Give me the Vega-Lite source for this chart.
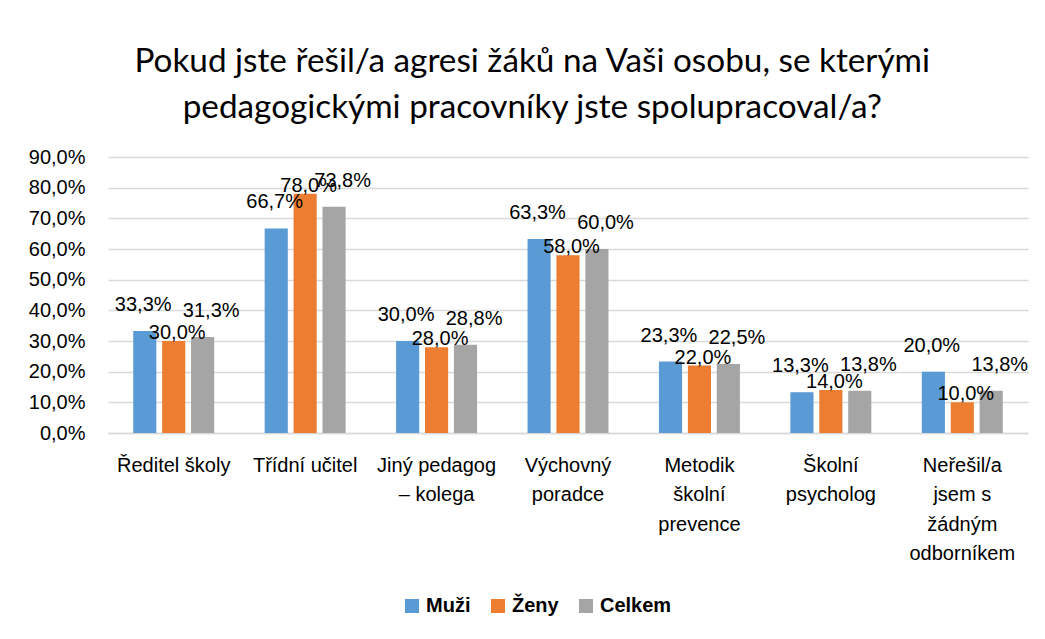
{
  "$schema": "https://vega.github.io/schema/vega-lite/v6.json",
  "width": 920,
  "height": 276,
  "autosize": {"type": "none"},
  "padding": {"left": 108, "top": 157, "right": 17, "bottom": 206},
  "background": "white",
  "title": {
    "text": ["Pokud jste řešil/a agresi žáků na Vaši osobu, se kterými", "pedagogickými pracovníky jste spolupracoval/a?"],
    "font": "Lato",
    "fontSize": 33.3,
    "fontWeight": "normal",
    "color": "#000000",
    "lineHeight": 46,
    "anchor": "middle",
    "frame": "bounds",
    "dx": 4,
    "offset": 22
  },
  "data": {
    "values": [
      {"kategorie": "Ředitel školy", "skupina": "Muži", "podil": 0.333},
      {"kategorie": "Ředitel školy", "skupina": "Ženy", "podil": 0.300},
      {"kategorie": "Ředitel školy", "skupina": "Celkem", "podil": 0.313},
      {"kategorie": "Třídní učitel", "skupina": "Muži", "podil": 0.667},
      {"kategorie": "Třídní učitel", "skupina": "Ženy", "podil": 0.780},
      {"kategorie": "Třídní učitel", "skupina": "Celkem", "podil": 0.738},
      {"kategorie": "Jiný pedagog – kolega", "skupina": "Muži", "podil": 0.300},
      {"kategorie": "Jiný pedagog – kolega", "skupina": "Ženy", "podil": 0.280},
      {"kategorie": "Jiný pedagog – kolega", "skupina": "Celkem", "podil": 0.288},
      {"kategorie": "Výchovný poradce", "skupina": "Muži", "podil": 0.633},
      {"kategorie": "Výchovný poradce", "skupina": "Ženy", "podil": 0.580},
      {"kategorie": "Výchovný poradce", "skupina": "Celkem", "podil": 0.600},
      {"kategorie": "Metodik školní prevence", "skupina": "Muži", "podil": 0.233},
      {"kategorie": "Metodik školní prevence", "skupina": "Ženy", "podil": 0.220},
      {"kategorie": "Metodik školní prevence", "skupina": "Celkem", "podil": 0.225},
      {"kategorie": "Školní psycholog", "skupina": "Muži", "podil": 0.133},
      {"kategorie": "Školní psycholog", "skupina": "Ženy", "podil": 0.140},
      {"kategorie": "Školní psycholog", "skupina": "Celkem", "podil": 0.138},
      {"kategorie": "Neřešil/a jsem s žádným odborníkem", "skupina": "Muži", "podil": 0.200},
      {"kategorie": "Neřešil/a jsem s žádným odborníkem", "skupina": "Ženy", "podil": 0.100},
      {"kategorie": "Neřešil/a jsem s žádným odborníkem", "skupina": "Celkem", "podil": 0.138}
    ]
  },
  "encoding": {
    "x": {
      "field": "kategorie",
      "type": "nominal",
      "sort": null,
      "scale": {"paddingInner": 0.384, "paddingOuter": 0.192},
      "axis": {
        "title": null,
        "labelAngle": 0,
        "ticks": false,
        "domain": true,
        "domainColor": "#D9D9D9",
        "domainWidth": 1.5,
        "labelFont": "Liberation Sans",
        "labelFontSize": 20,
        "labelColor": "#000000",
        "labelPadding": 22,
        "labelLineHeight": 29.5,
        "labelLimit": 200,
        "labelExpr": "datum.label == 'Jiný pedagog – kolega' ? ['Jiný pedagog', '– kolega'] : datum.label == 'Výchovný poradce' ? ['Výchovný', 'poradce'] : datum.label == 'Metodik školní prevence' ? ['Metodik', 'školní', 'prevence'] : datum.label == 'Školní psycholog' ? ['Školní', 'psycholog'] : datum.label == 'Neřešil/a jsem s žádným odborníkem' ? ['Neřešil/a', 'jsem s', 'žádným', 'odborníkem'] : datum.label"
      }
    },
    "y": {
      "field": "podil",
      "type": "quantitative",
      "scale": {"domain": [0, 0.9], "nice": false},
      "axis": {
        "title": null,
        "values": [0, 0.1, 0.2, 0.3, 0.4, 0.5, 0.6, 0.7, 0.8, 0.9],
        "format": ".1%",
        "domain": false,
        "ticks": false,
        "grid": true,
        "gridColor": "#D9D9D9",
        "gridWidth": 1.5,
        "labelFont": "Liberation Sans",
        "labelFontSize": 20,
        "labelColor": "#000000",
        "labelPadding": 23
      }
    }
  },
  "layer": [
    {
      "mark": {"type": "bar"},
      "encoding": {
        "xOffset": {
          "field": "skupina",
          "type": "nominal",
          "sort": ["Muži", "Ženy", "Celkem"],
          "scale": {"paddingInner": 0.2, "paddingOuter": 0}
        },
        "color": {
          "field": "skupina",
          "type": "nominal",
          "sort": ["Muži", "Ženy", "Celkem"],
          "scale": {"domain": ["Muži", "Ženy", "Celkem"], "range": ["#5B9BD5", "#ED7D31", "#A5A5A5"]},
          "legend": {
            "title": null,
            "orient": "none",
            "legendX": 294,
            "legendY": 439,
            "direction": "horizontal",
            "symbolType": "square",
            "symbolSize": 196,
            "symbolStrokeWidth": 0,
            "labelFont": "Liberation Sans",
            "labelFontSize": 20,
            "labelFontWeight": "bold",
            "labelColor": "#000000",
            "columnPadding": 17
          }
        }
      }
    },
    {
      "transform": [{"filter": "datum.skupina != 'Ženy'"}],
      "mark": {"type": "text", "baseline": "alphabetic", "dy": -20, "font": "Liberation Sans", "fontSize": 20, "color": "#000000"},
      "encoding": {
        "xOffset": {
          "field": "skupina",
          "type": "nominal",
          "scale": {"domain": ["Muži", "Ženy", "Celkem"], "range": [10, 78], "paddingInner": 0, "paddingOuter": 0}
        },
        "text": {"field": "podil", "type": "quantitative", "format": ".1%"}
      }
    },
    {
      "transform": [{"filter": "datum.skupina == 'Ženy'"}],
      "mark": {"type": "text", "baseline": "alphabetic", "dy": -2, "font": "Liberation Sans", "fontSize": 20, "color": "#000000"},
      "encoding": {
        "xOffset": {
          "field": "skupina",
          "type": "nominal",
          "scale": {"domain": ["Muži", "Ženy", "Celkem"], "range": [10, 78], "paddingInner": 0, "paddingOuter": 0}
        },
        "text": {"field": "podil", "type": "quantitative", "format": ".1%"}
      }
    }
  ],
  "resolve": {"scale": {"xOffset": "independent"}},
  "config": {
    "locale": {
      "number": {"decimal": ",", "thousands": " ", "grouping": [3], "currency": ["", " Kč"]}
    },
    "view": {"stroke": null}
  }
}
